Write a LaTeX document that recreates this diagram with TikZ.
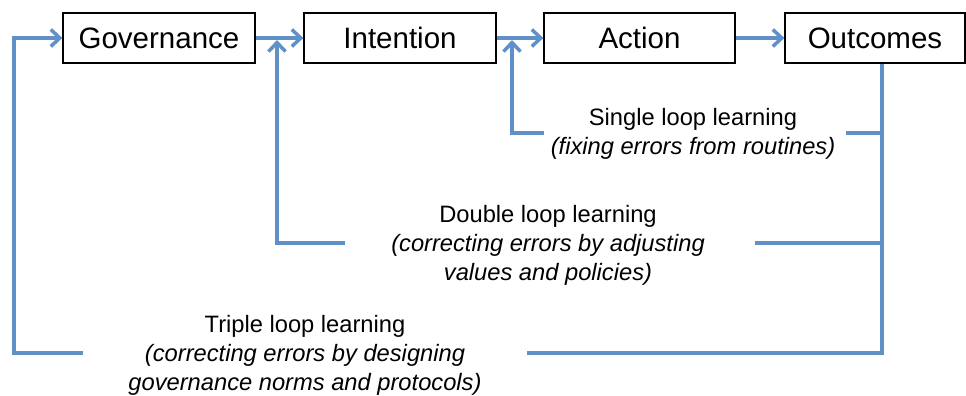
\documentclass[tikz,border=0pt]{standalone}
\usepackage{fontspec}
\setmainfont{Liberation Sans}
\usetikzlibrary{arrows.meta}
\definecolor{loopblue}{RGB}{95,145,200}
\begin{document}
\begin{tikzpicture}[x=1pt,y=-1pt,
  box/.style={draw=black,line width=1.3pt,minimum height=50pt,inner sep=0pt,font=\fontsize{29.5}{34}\selectfont},
  conn/.style={draw=loopblue,line width=3.5pt},
  arr/.style={conn,-{Straight Barb[length=9pt,width=17pt]}},
  lbl/.style={align=center,font=\fontsize{23.7}{29}\selectfont,inner sep=0pt}]
\useasboundingbox (0,0) rectangle (966,396);
% boxes
\node[box,minimum width=192pt] (gov) at (159,38) {Governance};
\node[box,minimum width=192pt] (int) at (400,38) {Intention};
\node[box,minimum width=191pt] (act) at (639.5,38) {Action};
\node[box,minimum width=180pt] (out) at (875,38) {Outcomes};
% labels
\node[lbl] (sl) at (693,134) {Single loop learning\\\textit{(fixing errors from routines)}};
\node[lbl] (dl) at (548,245) {Double loop learning\\\textit{(correcting errors by adjusting}\\\textit{values and policies)}};
\node[lbl] (tl) at (305,355) {Triple loop learning\\\textit{(correcting errors by designing}\\\textit{governance norms and protocols)}};
% coordinates
\coordinate (oB) at (882,353);
\coordinate (sJ) at (882,133);
\coordinate (sR) at (846,133);
\coordinate (sL) at (544,133);
\coordinate (sC) at (512,133);
\coordinate (sT) at (512,40);
\coordinate (dJ) at (882,243);
\coordinate (dR) at (755,243);
\coordinate (dL) at (345,243);
\coordinate (dC) at (277,243);
\coordinate (dT) at (277,40);
\coordinate (tR) at (527,353);
\coordinate (tL) at (83,353);
\coordinate (tC) at (14,353);
% forward arrows
\draw[arr] (gov.east) -- (int.west);
\draw[arr] (int.east) -- (act.west);
\draw[arr] (act.east) -- (out.west);
% right trunk
\draw[conn] (out.south -| oB) -- (oB) -- (tR);
\draw[conn] (sJ) -- (sR);
\draw[conn] (dJ) -- (dR);
% single loop
\draw[arr] (sL) -- (sC) -- (sT);
% double loop
\draw[arr] (dL) -- (dC) -- (dT);
% triple loop
\draw[arr] (tL) -- (tC) -- (gov.west -| tC) -- (gov.west);
\end{tikzpicture}
\end{document}
